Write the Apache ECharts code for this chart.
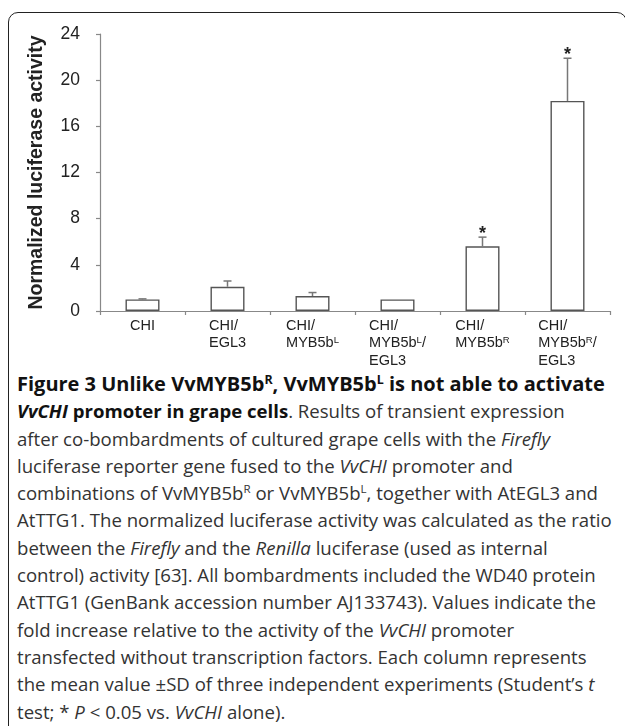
<!DOCTYPE html>
<html>
<head>
<meta charset="utf-8">
<script src="https://cdn.jsdelivr.net/npm/echarts@6.0.0/dist/echarts.min.js"></script>
<style>
html,body{margin:0;padding:0;width:625px;height:726px;overflow:hidden;background:#fff;}
#frame{position:absolute;left:8px;top:12px;width:619px;height:760px;border:1.5px solid #222;border-radius:10px;box-sizing:border-box;}
#chart{position:absolute;left:0;top:0;width:625px;height:370px;}
#caption{position:absolute;left:17px;top:370px;font-family:"Open Sans","Noto Sans",sans-serif;font-size:18.6px;line-height:27.3px;color:#333;white-space:nowrap;}
#caption b{color:#111;}
#caption .t{font-size:20px;}
#caption sup{font-size:0.62em;line-height:0;vertical-align:0.6em;}
</style>
</head>
<body>
<div id="frame"></div>
<div id="chart"></div>
<div id="caption">
<b class="t">Figure 3 Unlike VvMYB5b<sup>R</sup>, VvMYB5b<sup>L</sup> is not able to activate</b><br>
<b><i>VvCHI</i> promoter in grape cells</b>. Results of transient expression<br>
after co-bombardments of cultured grape cells with the <i>Firefly</i><br>
luciferase reporter gene fused to the <i>VvCHI</i> promoter and<br>
combinations of VvMYB5b<sup>R</sup> or VvMYB5b<sup>L</sup>, together with AtEGL3 and<br>
AtTTG1. The normalized luciferase activity was calculated as the ratio<br>
between the <i>Firefly</i> and the <i>Renilla</i> luciferase (used as internal<br>
control) activity [63]. All bombardments included the WD40 protein<br>
AtTTG1 (GenBank accession number AJ133743). Values indicate the<br>
fold increase relative to the activity of the <i>VvCHI</i> promoter<br>
transfected without transcription factors. Each column represents<br>
the mean value ±SD of three independent experiments (Student’s <i>t</i><br>
test; * <i>P</i> &lt; 0.05 vs. <i>VvCHI</i> alone).
</div>
<script>
// ---- data ----
const categories = ['CHI', 'CHI/\nEGL3', 'CHI/\nMYB5b^L', 'CHI/\nMYB5b^L/\nEGL3', 'CHI/\nMYB5b^R', 'CHI/\nMYB5b^R/\nEGL3'];
const means = [1.0, 2.1, 1.3, 1.0, 5.6, 18.2];
const sds = [0.05, 0.5, 0.3, 0.0, 0.8, 3.7];
const significant = [false, false, false, false, true, true];
const yMin = 0, yMax = 24, yInterval = 4;
const yTitle = 'Normalized luciferase activity';
const sigMark = '*';

function toRich(label) {
  return label.split('\n').map(function (line) {
    return ('{n|' + line.replace(/\^(\w)/g, '}{s|$1}{n|') + '}').replace(/\{n\|\}/g, '');
  }).join('\n');
}

const FONT = '"Liberation Sans", Arial, sans-serif';
const chart = echarts.init(document.getElementById('chart'), null, {renderer: 'canvas'});
chart.setOption({
  animation: false,
  backgroundColor: 'transparent',
  grid: {left: 100, right: 15, top: 34, bottom: 59, containLabel: false},
  xAxis: {
    type: 'category',
    data: categories,
    axisLine: {show: true, lineStyle: {color: '#888', width: 1.2}},
    axisTick: {show: true, length: 4, inside: false, lineStyle: {color: '#888', width: 1.2}},
    axisLabel: {
      margin: 6,
      interval: 0,
      formatter: function (v) { return toRich(v); },
      rich: {
        n: {fontSize: 14.5, lineHeight: 17.5, fontFamily: FONT, color: '#222', align: 'left'},
        s: {fontSize: 9.5, lineHeight: 17.5, fontFamily: FONT, color: '#222', align: 'left', verticalAlign: 'top', padding: [1, 0, 0, 0]}
      }
    },
    splitLine: {show: false}
  },
  yAxis: {
    type: 'value',
    min: yMin, max: yMax, interval: yInterval,
    name: yTitle,
    nameLocation: 'middle',
    nameRotate: 90,
    nameGap: 53,
    nameTextStyle: {fontSize: 19.5, fontWeight: 'bold', fontFamily: FONT, color: '#222'},
    axisLine: {show: true, lineStyle: {color: '#888', width: 1.2}},
    axisTick: {show: true, length: 4, inside: false, lineStyle: {color: '#888', width: 1.2}},
    axisLabel: {margin: 20, fontSize: 17.5, fontFamily: FONT, color: '#222'},
    splitLine: {show: false}
  },
  series: [
    {
      type: 'bar',
      data: means,
      barWidth: '40%',
      itemStyle: {color: '#fff', borderColor: '#555', borderWidth: 1.4},
      z: 2
    },
    {
      type: 'custom',
      z: 3,
      data: means.map(function (m, i) { return [i, m, m + sds[i], significant[i] ? 1 : 0]; }),
      renderItem: function (params, api) {
        const base = api.coord([api.value(0), api.value(1)]);
        const top = api.coord([api.value(0), api.value(2)]);
        const children = [];
        if (base[1] - top[1] > 0.3) {
          children.push({type: 'line', shape: {x1: base[0], y1: base[1], x2: base[0], y2: top[1]}, style: {stroke: '#777', lineWidth: 1.5}});
          children.push({type: 'line', shape: {x1: base[0] - 4, y1: top[1], x2: base[0] + 4, y2: top[1]}, style: {stroke: '#777', lineWidth: 1.5}});
        }
        if (api.value(3)) {
          children.push({type: 'text', x: base[0], y: top[1] - 3,
            style: {text: sigMark, fontSize: 18, fontWeight: 'bold', fontFamily: FONT, fill: '#222', align: 'center', verticalAlign: 'middle'}});
        }
        return {type: 'group', children: children};
      }
    }
  ]
});
</script>
</body>
</html>
